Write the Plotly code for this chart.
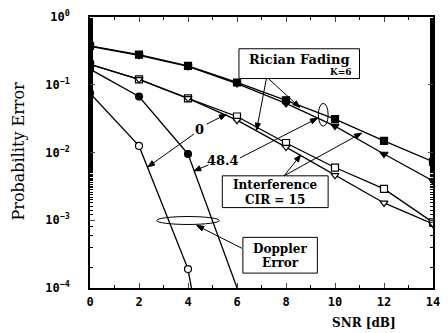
import math
import plotly.graph_objects as go

# ---------------- data ----------------
snr = [0, 2, 4, 6, 8, 10, 12, 14]
x_ticks = [0, 2, 4, 6, 8, 10, 12, 14]
y_tickvals = [1, 0.1, 0.01, 0.001, 0.0001]
y_ticktext = ["10<sup>0</sup>", "10<sup>−1</sup>", "10<sup>−2</sup>", "10<sup>−3</sup>", "10<sup>−4</sup>"]

rician_0 = [0.376, 0.278, 0.19, 0.108, 0.059, 0.031, 0.0148, 0.0073]
rician_48 = [0.37, 0.272, 0.186, 0.104, 0.053, 0.0245, 0.0095, 0.0038]
interf_0 = [0.2, 0.12, 0.063, 0.034, 0.0138, 0.006, 0.0029, 0.00093]
interf_48 = [0.2, 0.12, 0.063, 0.030, 0.012, 0.0046, 0.0018, 0.00088]

dop0_snr = [0, 2, 4]
dop0_pe = [0.075, 0.0125, 0.00019]
dop0_tail_snr = [4, 4.25]
dop0_tail_pe = [0.00019, 0.00006]

dop48_snr = [0, 2, 4]
dop48_pe = [0.17, 0.067, 0.0095]
dop48_tail_snr = [4, 6.05]
dop48_tail_pe = [0.0095, 0.00009]

# ---------------- helpers (pixel -> paper, layout only) ----------------
L, R, T, B = 90, 440, 15, 288
def X(px):
    return (px - L) / (R - L)
def Y(py):
    return (B - py) / (B - T)

fig = go.Figure()
lw = 1.3

def add_series(xs, ys, symbol, filled, size=7):
    fig.add_trace(go.Scatter(
        x=xs, y=ys, mode="lines+markers",
        line=dict(color="black", width=lw),
        marker=dict(symbol=symbol, size=size,
                    color="black" if filled else "white",
                    line=dict(color="black", width=1.2)),
        showlegend=False, cliponaxis=True))

def add_line(xs, ys):
    fig.add_trace(go.Scatter(x=xs, y=ys, mode="lines",
                             line=dict(color="black", width=lw), showlegend=False))

add_series(snr, rician_0, "square", True)
add_series(snr, rician_48, "triangle-down", True)
add_series(snr, interf_0, "square", False)
add_series(snr, interf_48, "triangle-down", False)
add_line(dop0_tail_snr, dop0_tail_pe)
add_line(dop48_tail_snr, dop48_tail_pe)
add_series(dop0_snr, dop0_pe, "circle", False)
add_series(dop48_snr, dop48_pe, "circle", True)

serif = "DejaVu Serif"
mono = "DejaVu Sans Mono"

shapes = [
    dict(type="rect", xref="paper", yref="paper", x0=X(242), x1=X(365), y0=Y(77), y1=Y(47),
         line=dict(color="black", width=1), fillcolor="white", layer="above"),
    dict(type="rect", xref="paper", yref="paper", x0=X(225), x1=X(333), y0=Y(207), y1=Y(175),
         line=dict(color="black", width=1), fillcolor="white", layer="above"),
    dict(type="rect", xref="paper", yref="paper", x0=X(246), x1=X(322), y0=Y(273), y1=Y(237),
         line=dict(color="black", width=1), fillcolor="white", layer="above"),
    dict(type="circle", xref="paper", yref="paper", x0=X(158), x1=X(222), y0=Y(224), y1=Y(216),
         line=dict(color="black", width=1)),
    dict(type="circle", xref="paper", yref="paper", x0=X(323), x1=X(333), y0=Y(125), y1=Y(102),
         line=dict(color="black", width=1)),
]

def arrow(tx, ty, hx, hy, size=7, half=2.6):
    shapes.append(dict(type="line", xref="paper", yref="paper",
                       x0=X(tx), y0=Y(ty), x1=X(hx), y1=Y(hy),
                       line=dict(color="black", width=1), layer="above"))
    dx, dy = hx - tx, hy - ty
    n = math.hypot(dx, dy)
    ux, uy = dx / n, dy / n
    bx, by = hx - ux * size, hy - uy * size
    p1 = (bx - uy * half, by + ux * half)
    p2 = (bx + uy * half, by - ux * half)
    path = "M {} {} L {} {} L {} {} Z".format(X(hx), Y(hy), X(p1[0]), Y(p1[1]), X(p2[0]), Y(p2[1]))
    shapes.append(dict(type="path", xref="paper", yref="paper", path=path,
                       fillcolor="black", line=dict(color="black", width=1), layer="above"))

arrow(196, 133, 149, 166)
arrow(209, 123, 229, 113)
arrow(211, 164, 196, 170)
arrow(243, 157, 322, 117)
arrow(270, 77, 260, 129)
arrow(272, 77, 304, 106)
arrow(288, 175, 305, 154)
arrow(288, 175, 367, 132)
arrow(245, 248, 199, 225)

ann = []
def text(px, py, s, size=12, family=serif, bold=True):
    ann.append(dict(xref="paper", yref="paper", x=X(px), y=Y(py), text=s, showarrow=False,
                    font=dict(family=family, size=size, color="black",
                              weight="bold" if bold else "normal"),
                    xanchor="center", yanchor="middle"))

text(304, 58, "Rician Fading", 13)
text(346, 70, "K=6", 9)
text(279, 184, "Interference", 12)
text(279, 199, "CIR = 15", 12)
text(284, 249, "Doppler", 12)
text(284, 263, "Error", 12)
text(202, 128, "0", 13)
text(226, 160, "48.4", 13)

ann.append(dict(xref="paper", yref="paper", x=X(370), y=Y(323), text="SNR [dB]", showarrow=False,
                font=dict(family=serif, size=12, color="black", weight="bold"),
                xanchor="center", yanchor="middle"))
ann.append(dict(xref="paper", yref="paper", x=X(17), y=Y(150), text="Probability Error",
                showarrow=False, textangle=-90,
                font=dict(family=serif, size=16, color="black"),
                xanchor="center", yanchor="middle"))

fig.update_layout(
    width=448, height=333,
    margin=dict(l=L, r=448 - R, t=T, b=333 - B),
    paper_bgcolor="white", plot_bgcolor="white",
    shapes=shapes, annotations=ann,
    xaxis=dict(range=[0, 14], tickvals=x_ticks, ticks="inside", ticklen=5, tickwidth=1,
               showline=True, linecolor="black", linewidth=1.5, mirror="ticks",
               showgrid=False, zeroline=False, ticklabelstandoff=2,
               minor=dict(ticks="inside", ticklen=3, dtick=1, tickcolor="black"),
               tickfont=dict(family=mono, size=12, color="black", weight="bold")),
    yaxis=dict(type="log", range=[-4, 0], tickvals=y_tickvals, ticktext=y_ticktext,
               ticks="inside", ticklen=5, tickwidth=1,
               showline=True, linecolor="black", linewidth=1.5, mirror="ticks",
               showgrid=False, zeroline=False, ticklabelstandoff=16,
               minor=dict(ticks="inside", ticklen=3, tickcolor="black"),
               tickfont=dict(family=mono, size=12, color="black", weight="bold")),
)

fig.write_html("out.html")
